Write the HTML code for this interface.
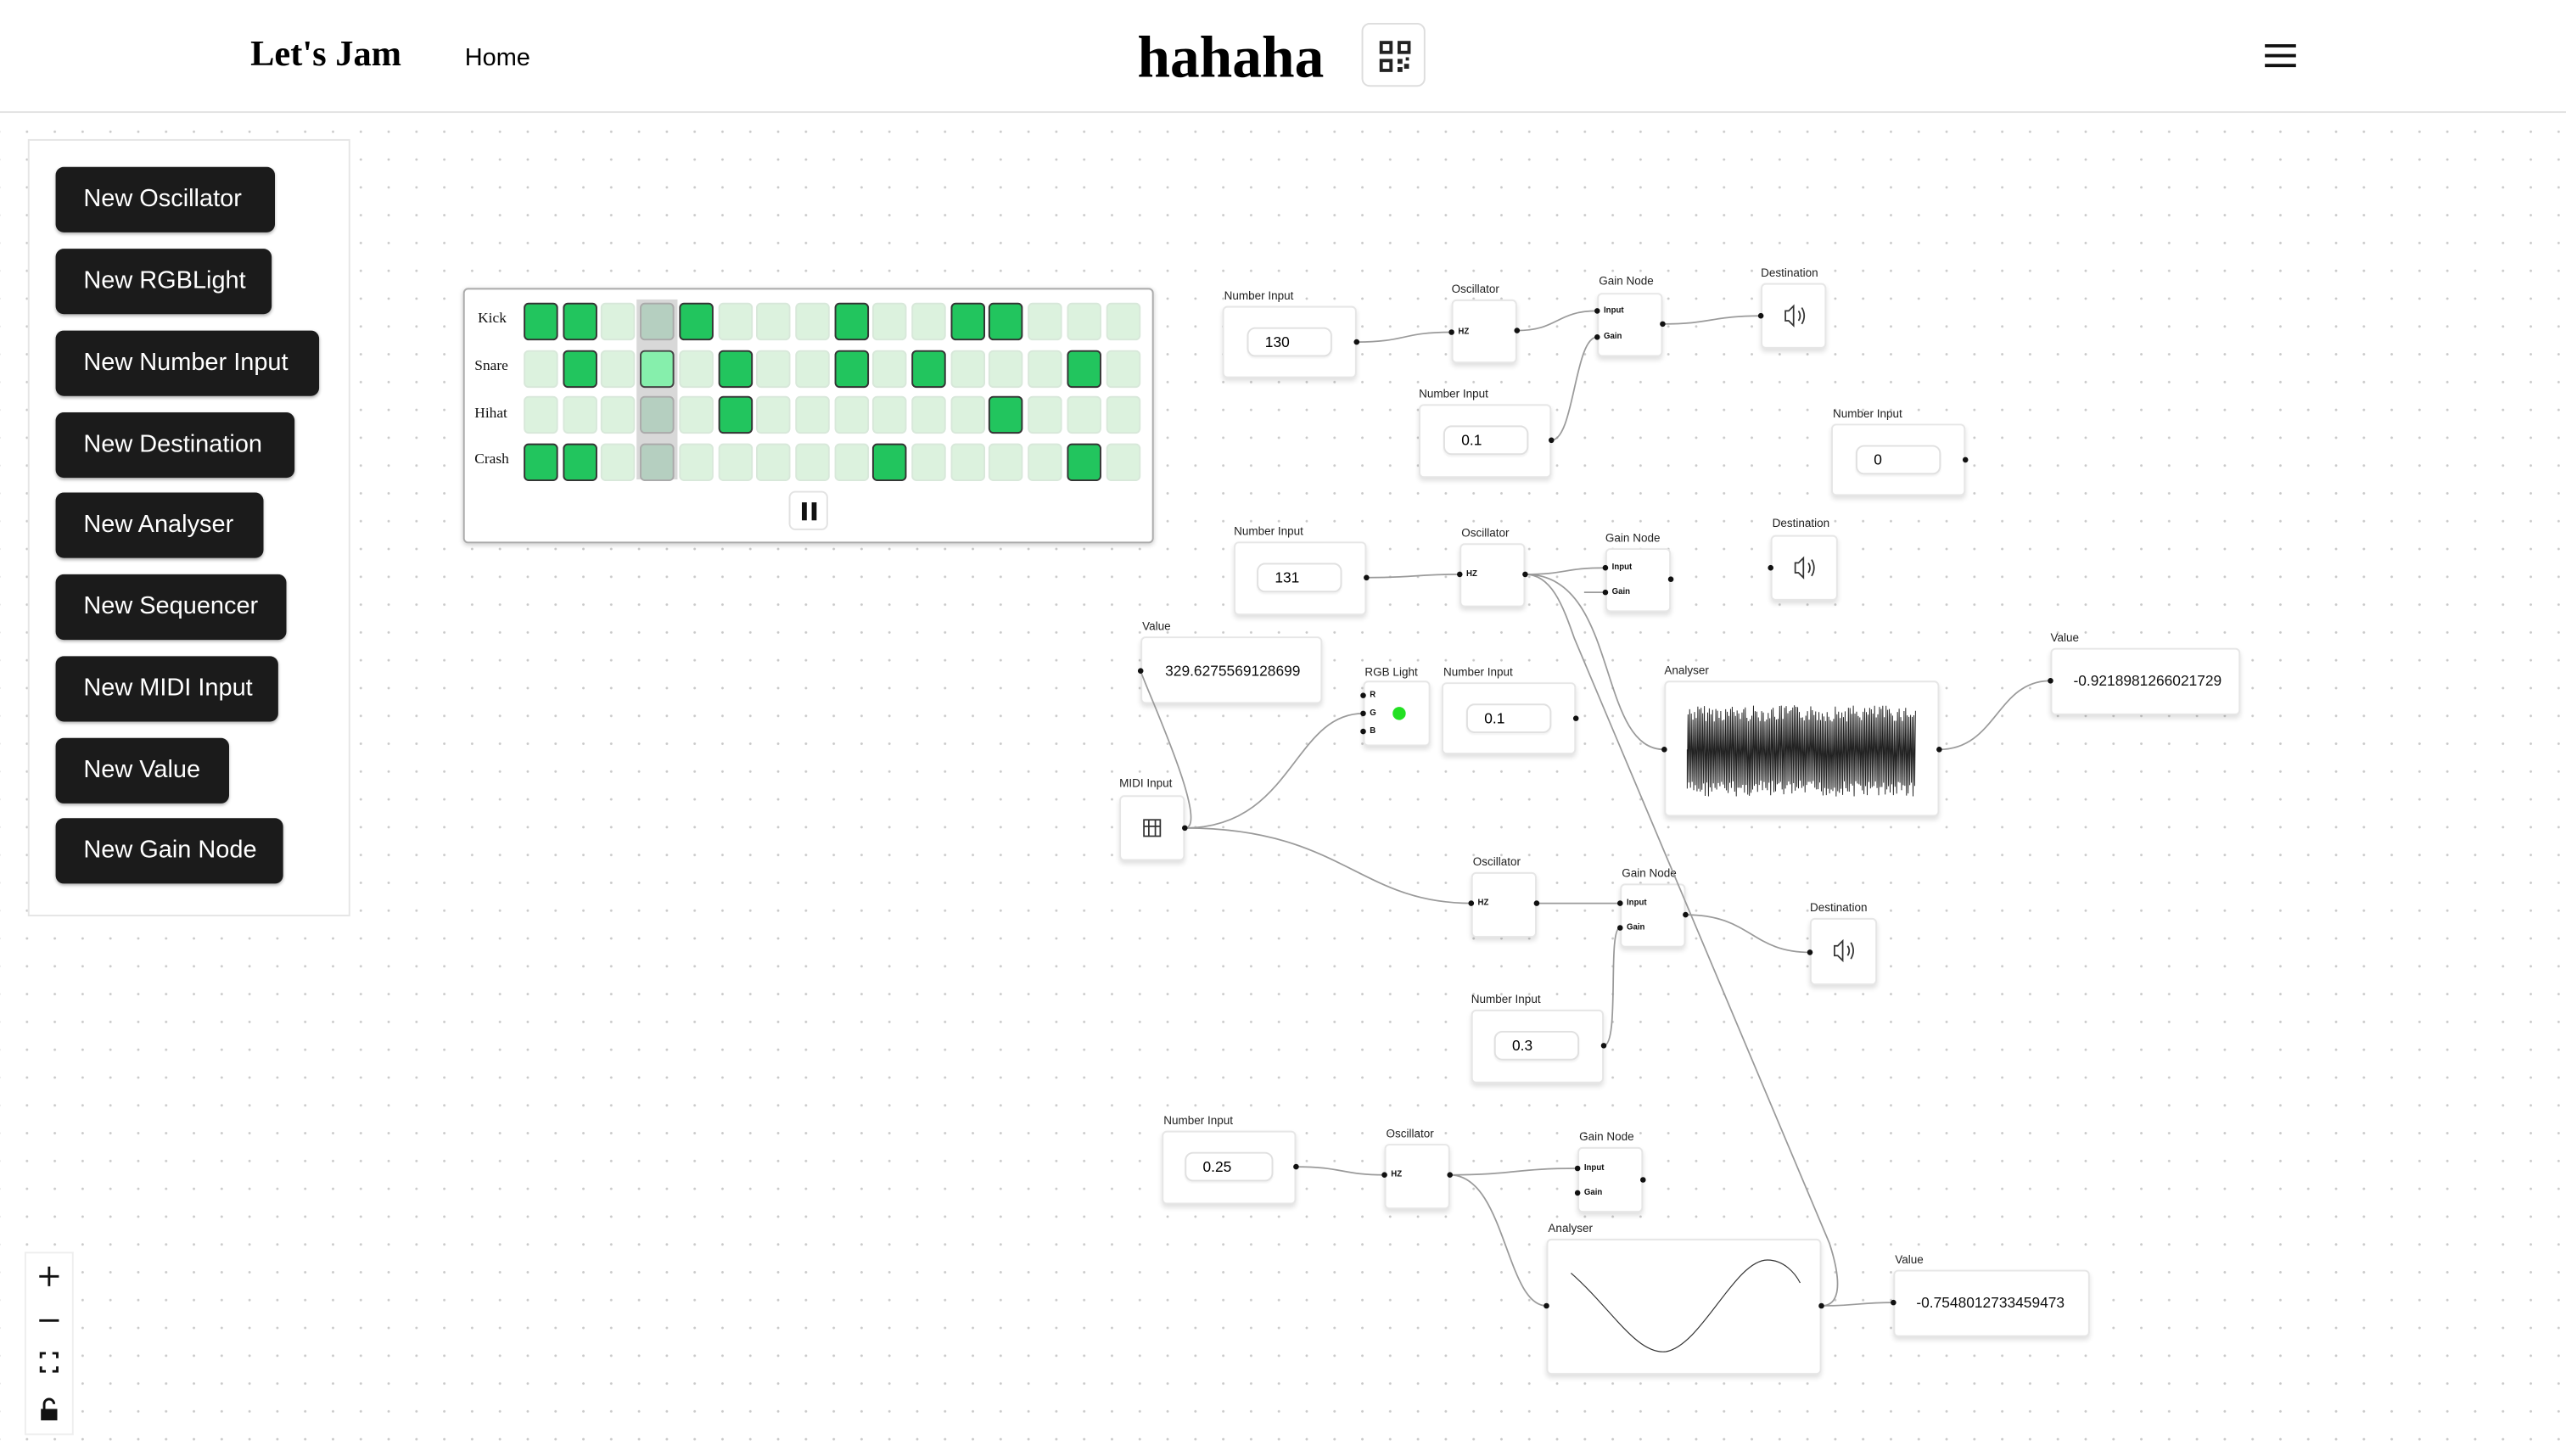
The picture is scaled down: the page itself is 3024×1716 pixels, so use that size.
<!DOCTYPE html>
<html><head><meta charset="utf-8">
<style>
html,body{margin:0;padding:0;width:3024px;height:1716px;overflow:hidden;background:#fff;}
#root{position:absolute;left:0;top:0;width:1568px;height:890px;transform:scale(1.928571);transform-origin:0 0;font-family:"Liberation Sans",sans-serif;
background-color:#fff;background-image:radial-gradient(circle,#c9c9c9 0.6px,transparent 0.9px);background-size:17px 17px;background-position:8px 4px;}
.hdr{position:absolute;left:0;top:0;width:1568px;height:68px;background:#fff;border-bottom:1px solid #e2e2e2;}
.serif{font-family:"Liberation Serif",serif;font-weight:bold;}
.side{position:absolute;left:17px;top:85px;width:195px;height:473px;background:#fff;border:1px solid #e5e5e5;}
.btn{position:absolute;left:34px;height:40px;background:#1b1b1b;color:#fff;border-radius:5px;font-size:15px;line-height:40px;padding-left:17px;box-sizing:border-box;box-shadow:0 1px 2px rgba(0,0,0,.3);}
.node{position:absolute;background:#fff;border:1px solid #e6e6e6;border-radius:3px;box-shadow:0 2px 3px rgba(0,0,0,.12);box-sizing:border-box;}
.lbl{position:absolute;font-size:7px;color:#222;white-space:nowrap;}
.inp{position:absolute;border:1px solid #e0e0e0;border-radius:5px;font-size:9px;line-height:16px;padding-left:10px;box-sizing:border-box;height:18px;background:#fff;box-shadow:0 1px 1px rgba(0,0,0,.05);}
.pl{position:absolute;font-size:5px;font-weight:bold;color:#111;}
.seq{position:absolute;left:283px;top:176px;width:422px;height:156px;background:#fff;border:1px solid #aaa;border-radius:3px;box-shadow:0 1px 3px rgba(0,0,0,.2);box-sizing:border-box;}
.rl{position:absolute;font-family:"Liberation Serif",serif;font-size:9px;color:#111;}
.cell{position:absolute;width:21px;height:23px;border-radius:3px;box-sizing:border-box;}
.off{background:#dcf2de;border:1px solid #d8e8da;}
.on{background:#22c55e;border:1px solid #333;}
.val{position:absolute;font-size:9px;color:#111;}
.zc{position:absolute;left:15px;top:765px;width:28px;height:110px;background:#fff;border:1px solid #eee;}
</style></head><body>
<div id="root">
<div class="hdr">
  <div class="serif" style="position:absolute;left:153px;top:20px;font-size:22px;">Let's Jam</div>
  <div style="position:absolute;left:284px;top:27px;font-size:15px;">Home</div>
  <div class="serif" style="position:absolute;left:695px;top:14px;font-size:36px;">hahaha</div>
  <div style="position:absolute;left:832px;top:14px;width:39px;height:39px;border:1px solid #ddd;border-radius:5px;box-sizing:border-box;">
    <svg width="39" height="39" viewBox="0 0 39 39"><g fill="none" stroke="#222" stroke-width="2"><rect x="11" y="11" width="6" height="6"/><rect x="22" y="11" width="6" height="6"/><rect x="11" y="22" width="6" height="6"/></g><g fill="#222"><rect x="21" y="21" width="3" height="3"/><rect x="25" y="24" width="3" height="3"/><rect x="21" y="26" width="3" height="3"/><rect x="26" y="20" width="2" height="2"/></g></svg>
  </div>
  <svg style="position:absolute;left:1383px;top:26px" width="21" height="16"><g stroke="#111" stroke-width="2"><line x1="1" y1="2" x2="20" y2="2"/><line x1="1" y1="8" x2="20" y2="8"/><line x1="1" y1="14" x2="20" y2="14"/></g></svg>
</div>

<div class="side"></div>
<div class="btn" style="top:102px;width:134px">New Oscillator</div>
<div class="btn" style="top:152px;width:132px">New RGBLight</div>
<div class="btn" style="top:202px;width:161px">New Number Input</div>
<div class="btn" style="top:252px;width:146px">New Destination</div>
<div class="btn" style="top:301px;width:127px">New Analyser</div>
<div class="btn" style="top:351px;width:141px">New Sequencer</div>
<div class="btn" style="top:401px;width:136px">New MIDI Input</div>
<div class="btn" style="top:451px;width:106px">New Value</div>
<div class="btn" style="top:500px;width:139px">New Gain Node</div>

<div class="seq"></div>
<div style="position:absolute;left:389px;top:183px;width:25px;height:110px;background:#d8d8d8;"></div>
<div class="rl" style="left:292px;top:189px">Kick</div>
<div class="rl" style="left:290px;top:218px">Snare</div>
<div class="rl" style="left:290px;top:247px">Hihat</div>
<div class="rl" style="left:290px;top:275px">Crash</div>
<div id="cells"></div>
<div style="position:absolute;left:482px;top:300px;width:24px;height:24px;border:1px solid #e2e2e2;border-radius:4px;box-sizing:border-box;background:#fff">
  <div style="position:absolute;left:7px;top:6px;width:3px;height:11px;background:#111"></div>
  <div style="position:absolute;left:13px;top:6px;width:3px;height:11px;background:#111"></div>
</div>

<!-- nodes -->
<div class="lbl" style="left:748px;top:178px">Number Input</div>
<div class="node" style="left:747px;top:187px;width:82px;height:44px"></div>
<div class="inp" style="left:762px;top:200px;width:52px">130</div>

<div class="lbl" style="left:887px;top:174px">Oscillator</div>
<div class="node" style="left:887px;top:183px;width:40px;height:39px"></div>
<div class="pl" style="left:891px;top:200px">HZ</div>

<div class="lbl" style="left:977px;top:169px">Gain Node</div>
<div class="node" style="left:976px;top:179px;width:40px;height:39px"></div>
<div class="pl" style="left:980px;top:187px">Input</div>
<div class="pl" style="left:980px;top:203px">Gain</div>

<div class="lbl" style="left:1076px;top:164px">Destination</div>
<div class="node" style="left:1076px;top:173px;width:40px;height:40px"></div>

<div class="lbl" style="left:867px;top:238px">Number Input</div>
<div class="node" style="left:867px;top:247px;width:81px;height:45px"></div>
<div class="inp" style="left:882px;top:260px;width:52px">0.1</div>

<div class="lbl" style="left:1120px;top:250px">Number Input</div>
<div class="node" style="left:1119px;top:259px;width:82px;height:44px"></div>
<div class="inp" style="left:1134px;top:272px;width:52px">0</div>

<div class="lbl" style="left:754px;top:322px">Number Input</div>
<div class="node" style="left:754px;top:331px;width:81px;height:45px"></div>
<div class="inp" style="left:768px;top:344px;width:52px">131</div>

<div class="lbl" style="left:893px;top:323px">Oscillator</div>
<div class="node" style="left:892px;top:332px;width:40px;height:39px"></div>
<div class="pl" style="left:896px;top:348px">HZ</div>

<div class="lbl" style="left:981px;top:326px">Gain Node</div>
<div class="node" style="left:981px;top:335px;width:40px;height:39px"></div>
<div class="pl" style="left:985px;top:344px">Input</div>
<div class="pl" style="left:985px;top:359px">Gain</div>

<div class="lbl" style="left:1083px;top:317px">Destination</div>
<div class="node" style="left:1082px;top:327px;width:41px;height:40px"></div>

<div class="lbl" style="left:698px;top:380px">Value</div>
<div class="node" style="left:697px;top:389px;width:111px;height:41px"></div>
<div class="val" style="left:712px;top:405px">329.6275569128699</div>

<div class="lbl" style="left:834px;top:408px">RGB Light</div>
<div class="node" style="left:833px;top:416px;width:41px;height:40px"></div>
<div class="pl" style="left:837px;top:422px">R</div>
<div class="pl" style="left:837px;top:433px">G</div>
<div class="pl" style="left:837px;top:444px">B</div>
<div style="position:absolute;left:851px;top:432px;width:8px;height:8px;border-radius:50%;background:#22e022"></div>

<div class="lbl" style="left:882px;top:408px">Number Input</div>
<div class="node" style="left:881px;top:417px;width:82px;height:44px"></div>
<div class="inp" style="left:896px;top:430px;width:52px">0.1</div>

<div class="lbl" style="left:1017px;top:407px">Analyser</div>
<div class="node" style="left:1017px;top:416px;width:168px;height:83px"></div>

<div class="lbl" style="left:1253px;top:387px">Value</div>
<div class="node" style="left:1253px;top:396px;width:116px;height:41px"></div>
<div class="val" style="left:1267px;top:411px">-0.9218981266021729</div>

<div class="lbl" style="left:684px;top:476px">MIDI Input</div>
<div class="node" style="left:684px;top:486px;width:40px;height:40px"></div>

<div class="lbl" style="left:900px;top:524px">Oscillator</div>
<div class="node" style="left:899px;top:533px;width:40px;height:40px"></div>
<div class="pl" style="left:903px;top:549px">HZ</div>

<div class="lbl" style="left:991px;top:531px">Gain Node</div>
<div class="node" style="left:990px;top:540px;width:40px;height:39px"></div>
<div class="pl" style="left:994px;top:549px">Input</div>
<div class="pl" style="left:994px;top:564px">Gain</div>

<div class="lbl" style="left:1106px;top:552px">Destination</div>
<div class="node" style="left:1106px;top:561px;width:41px;height:41px"></div>

<div class="lbl" style="left:899px;top:608px">Number Input</div>
<div class="node" style="left:899px;top:617px;width:81px;height:45px"></div>
<div class="inp" style="left:913px;top:630px;width:52px">0.3</div>

<div class="lbl" style="left:711px;top:682px">Number Input</div>
<div class="node" style="left:710px;top:691px;width:82px;height:45px"></div>
<div class="inp" style="left:724px;top:704px;width:54px">0.25</div>

<div class="lbl" style="left:847px;top:690px">Oscillator</div>
<div class="node" style="left:846px;top:699px;width:40px;height:40px"></div>
<div class="pl" style="left:850px;top:715px">HZ</div>

<div class="lbl" style="left:965px;top:692px">Gain Node</div>
<div class="node" style="left:964px;top:701px;width:40px;height:40px"></div>
<div class="pl" style="left:968px;top:711px">Input</div>
<div class="pl" style="left:968px;top:726px">Gain</div>

<div class="lbl" style="left:946px;top:748px">Analyser</div>
<div class="node" style="left:945px;top:757px;width:168px;height:83px"></div>

<div class="lbl" style="left:1158px;top:767px">Value</div>
<div class="node" style="left:1157px;top:776px;width:120px;height:41px"></div>
<div class="val" style="left:1171px;top:791px">-0.7548012733459473</div>

<svg style="position:absolute;left:0;top:0" width="1568" height="890" viewBox="0 0 1568 890">
<g fill="none" stroke="#9a9a9a" stroke-width="0.9">
<path d="M829,209 C860,209 856,203 887,203"/>
<path d="M927,202 C952,202 951,190 976,190"/>
<path d="M948,269 C962,269 962,206 976,206"/>
<path d="M1016,198 C1046,198 1046,193 1076,193"/>
<path d="M835,353 C864,353 864,351 892,351"/>
<path d="M932,351 C957,351 956,347 981,347"/>
<path d="M932,351 C990,351 975,458 1017,458"/>
<path d="M968,362 C975,362 975,362 981,362"/>
<path d="M932,351 C948,351 955,370 962,390 L1118,760 C1126,785 1124,798 1113,798"/>
<path d="M724,506 C740,506 700,420 697,410"/>
<path d="M724,506 C790,506 790,436 833,436"/>
<path d="M724,506 C820,506 830,552 899,552"/>
<path d="M1185,458 C1220,458 1220,416 1253,416"/>
<path d="M939,552 C965,552 965,552 990,552"/>
<path d="M980,639 C990,639 982,567 990,567"/>
<path d="M1030,559 C1070,559 1070,582 1106,582"/>
<path d="M792,713 C820,713 820,718 846,718"/>
<path d="M886,718 C925,718 925,714 964,714"/>
<path d="M886,718 C920,718 920,798 945,798"/>
<path d="M1113,798 C1135,798 1135,796 1157,796"/>
</g>
<path d="M960,778 C985,800 1000,828 1018,826 C1040,822 1060,770 1080,770 C1090,770 1097,778 1100,784" fill="none" stroke="#333" stroke-width="0.6"/>
<path id="wave" fill="none" stroke="#222" stroke-width="0.5" d=""/>
<g fill="#111" id="dots"></g>
<!-- speaker icons -->
<g fill="none" stroke="#333" stroke-width="0.9">
<path d="M1091,190 h2 l3,-3 v12 l-3,-3 h-2 z M1099,190 q2,3 0,6 M1101,188 q3,5 0,10"/>
<path d="M1097,344 h2 l3,-3 v12 l-3,-3 h-2 z M1105,344 q2,3 0,6 M1107,342 q3,5 0,10"/>
<path d="M1121,578 h2 l3,-3 v12 l-3,-3 h-2 z M1129,578 q2,3 0,6 M1131,576 q3,5 0,10"/>
<rect x="699" y="501" width="10" height="10"/><path d="M699,505 h10 M702,501 v10 M706,501 v10"/>
</g>
</svg>

<div class="zc">
 <svg width="28" height="110"><g stroke="#111" stroke-width="1.5" fill="none">
 <path d="M8,14 h12 M14,8 v12"/><path d="M8,41 h12"/>
 <path d="M9,64 v-3 h3 M16,61 h3 v3 M19,69 v3 h-3 M12,72 h-3 v-3"/>
 </g><rect x="9" y="95" width="10" height="7" fill="#111"/><path d="M11,95 v-3 a3,3 0 0 1 6,0" stroke="#111" stroke-width="1.5" fill="none"/></svg>
</div>
</div>
<script>
var rows={0:[0,1,4,8,11,12],1:[1,5,8,10,14],2:[5,12],3:[0,1,9,14]};
var h='';for(var r=0;r<4;r++){for(var c=0;c<16;c++){var x=320+c*23.7,y=185+r*28.5;var cls=rows[r].indexOf(c)>=0?'on':'off';var st='';
if(c==3){cls='off';st='background:#b5cfc0;border-color:#aaa;';if(r==1)st='background:#86efac;border:1px solid #444;';}
h+='<div class="cell '+cls+'" style="left:'+x+'px;top:'+y+'px;'+st+'"></div>';}}
document.getElementById('cells').innerHTML=h;
var d='M1031,458';var s=7;for(var i=0;i<280;i++){s=(s*9301+49297)%233280;var a=s/233280;var x=1031+i*0.5;var y=(i%2?431+a*10:477+a*10);d+=' L'+x.toFixed(1)+','+y.toFixed(1);}
document.getElementById('wave').setAttribute('d',d);
var pts=[[829,209],[887,203],[927,202],[976,190],[976,206],[1016,198],[1076,193],[948,269],[1201,281],[835,353],[892,351],[932,351],[981,347],[981,362],[1021,354],[1082,347],[697,410],[833,425],[833,436],[833,447],[963,439],[1017,458],[1185,458],[1253,416],[724,506],[899,552],[939,552],[990,552],[990,567],[1030,559],[1106,582],[980,639],[792,713],[846,718],[886,718],[964,714],[964,729],[1004,721],[945,798],[1113,798],[1157,796]];
var g='';pts.forEach(function(p){g+='<circle cx="'+p[0]+'" cy="'+p[1]+'" r="1.7"/>';});
document.getElementById('dots').innerHTML=g;
</script>
</body></html>
